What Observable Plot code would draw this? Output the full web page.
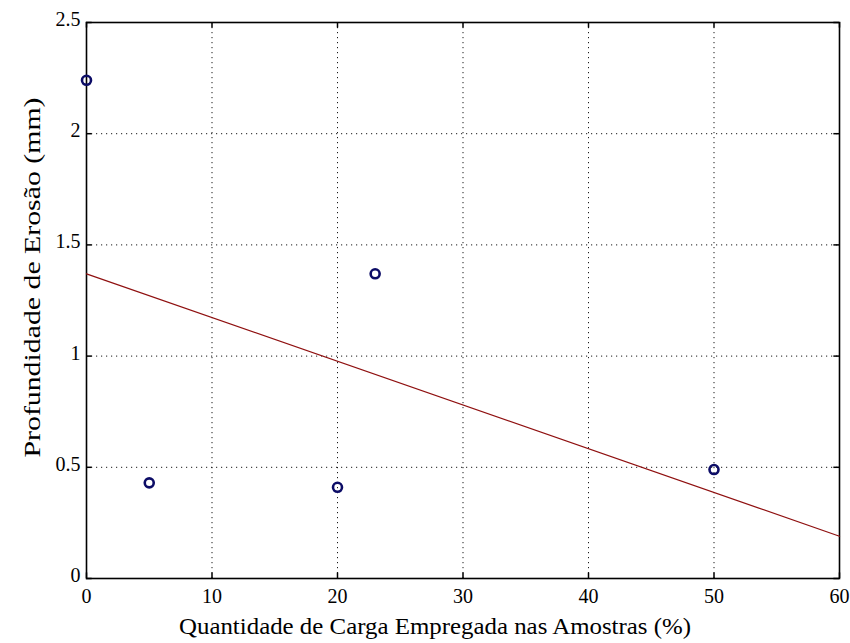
<!DOCTYPE html>
<html>
<head>
<meta charset="utf-8">
<script src="https://cdn.jsdelivr.net/npm/d3@7"></script>
<script src="https://cdn.jsdelivr.net/npm/@observablehq/plot@0.6"></script>
<style>
  html, body { margin: 0; padding: 0; background: #fff; }
  svg { display: block; }
</style>
</head>
<body>
<div id="chart"></div>
<script>
// Data
const cargaPct = [0, 5, 20, 23, 50];
const profundidade = [2.24, 0.43, 0.41, 1.37, 0.49];
const fitX = [0, 60];
const fitY = [1.37, 0.19];
const xTicks = [0, 10, 20, 30, 40, 50, 60];
const yTicks = [0, 0.5, 1, 1.5, 2, 2.5];
const yTickLabels = ["0", "0.5", "1", "1.5", "2", "2.5"];
const xLabel = "Quantidade de Carga Empregada nas Amostras (%)";
const yLabel = "Profundidade de Erosão (mm)";

const points = cargaPct.map((x, i) => ({x, y: profundidade[i]}));
const fit = fitX.map((x, i) => ({x, y: fitY[i]}));

const font = "'Liberation Serif', 'DejaVu Serif', serif";
const dots = "1.2,3.8";

const chart = Plot.plot({
  width: 850,
  height: 643,
  marginLeft: 86,
  marginRight: 11,
  marginTop: 22,
  marginBottom: 65,
  style: {fontFamily: font, fontSize: "20px", background: "#fff", color: "#000"},
  x: {domain: [0, 60]},
  y: {domain: [0, 2.5]},
  marks: [
    // dotted grid
    Plot.ruleX(xTicks, {stroke: "#000", strokeWidth: 1, strokeDasharray: dots, strokeOpacity: 0.9}),
    Plot.ruleY(yTicks, {stroke: "#000", strokeWidth: 1, strokeDasharray: dots, strokeOpacity: 0.9}),
    // inward tick marks (bottom/top/left/right)
    Plot.ruleX(xTicks, {y1: 0, y2: 0.025, stroke: "#000", strokeWidth: 1.5}),
    Plot.ruleX(xTicks, {y1: 2.5, y2: 2.475, stroke: "#000", strokeWidth: 1.5}),
    Plot.ruleY(yTicks, {x1: 0, x2: 0.45, stroke: "#000", strokeWidth: 1.5}),
    Plot.ruleY(yTicks, {x1: 60, x2: 59.55, stroke: "#000", strokeWidth: 1.5}),
    Plot.frame({stroke: "#000", strokeWidth: 1.6}),
    // axes labels
    Plot.axisX(xTicks, {tickSize: 0, tickPadding: 10, label: null, fontSize: 20}),
    Plot.axisY(yTicks, {tickSize: 0, tickPadding: 6, label: null, fontSize: 20,
      tickFormat: (d) => yTickLabels[yTicks.indexOf(d)], dy: -3}),
    // regression line
    Plot.line(fit, {x: "x", y: "y", stroke: "#8f1010", strokeWidth: 1.2}),
    // data markers
    Plot.dot(points, {x: "x", y: "y", r: 4.5, stroke: "#0c0c66", strokeWidth: 2.6, fill: "none"}),
    // titles
    Plot.text([xLabel], {text: (d) => d, frameAnchor: "bottom", textAnchor: "middle", dy: 55, dx: -28, fontSize: 24, fill: "#000"}),
    Plot.text([yLabel], {text: (d) => d, frameAnchor: "left", textAnchor: "middle", dx: -54, dy: -23, rotate: -90, fontSize: 23, fill: "#000"})
  ]
});
document.getElementById("chart").appendChild(chart);

// widen the axis titles to the extents seen in the reference
d3.select(chart).selectAll("text").each(function () {
  const t = this.textContent;
  if (t === xLabel) d3.select(this).attr("textLength", 512).attr("lengthAdjust", "spacingAndGlyphs");
  if (t === yLabel) d3.select(this).attr("textLength", 360).attr("lengthAdjust", "spacingAndGlyphs");
});
</script>
</body>
</html>
